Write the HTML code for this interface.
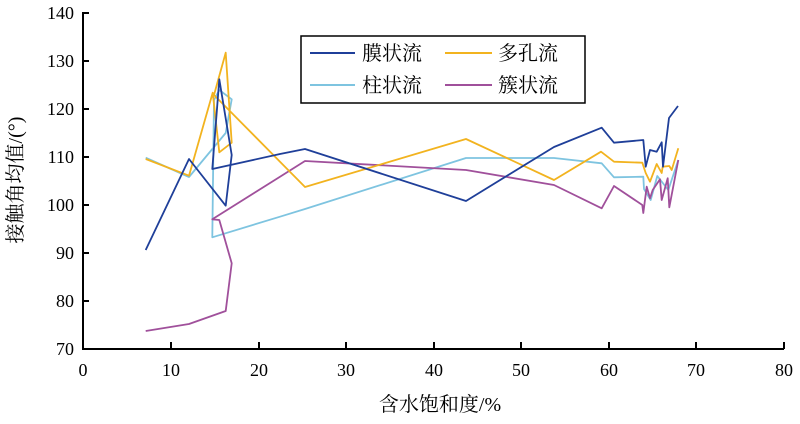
<!DOCTYPE html>
<html><head><meta charset="utf-8"><style>
body{margin:0;background:#fff}
svg text{font-family:'Liberation Serif','Noto Serif CJK SC',serif !important;fill:#000}
</style></head><body>
<svg width="800" height="419" viewBox="0 0 800 419" font-family="'Liberation Serif','Noto Serif CJK SC',serif">
<g stroke="#000" stroke-width="2" fill="none">
<path d="M83,12 V349 H784"/>
<path d="M83,13h6M83,61h6M83,109h6M83,157h6M83,205h6M83,253h6M83,301h6"/>
<path d="M171,349v-7M259,349v-7M346,349v-7M434,349v-7M521,349v-7M609,349v-7M696,349v-7M784,349v-7"/>
</g>
<g font-size="18" text-anchor="end">
<text x="74" y="19">140</text><text x="74" y="67">130</text><text x="74" y="115">120</text><text x="74" y="163">110</text><text x="74" y="211">100</text><text x="74" y="259">90</text><text x="74" y="307">80</text><text x="74" y="355">70</text>
</g>
<g font-size="18" text-anchor="middle">
<text x="83" y="376">0</text><text x="171" y="376">10</text><text x="259" y="376">20</text><text x="346" y="376">30</text><text x="434" y="376">40</text><text x="521" y="376">50</text><text x="609" y="376">60</text><text x="696" y="376">70</text><text x="784" y="376">80</text>
<text x="440" y="411" font-size="20">含水饱和度/%</text>
<text transform="translate(22,180) rotate(-90)" font-size="20">接触角均值/(°)</text>
</g>
<g fill="none" stroke-width="1.8" stroke-linejoin="round">
<polyline stroke="#7ec4e0" points="145.7,157.7 189,177 225.7,133 231.7,99.3 219.3,90 214,100 212.3,237.3 280,216.7 305,209 466,158 554,158 601.7,163.3 614,177.3 643.3,176.7 644,189 650.7,200 657.3,176 668.3,190 678.3,160"/>
<polyline stroke="#a0509b" points="145.7,331 189,324 225.7,311 231.7,263.3 219.3,220 212.3,219.3 280,176.7 305,161 466,170 554,185 601.7,208.3 614,186 642.3,205 643.3,213 646.7,186.7 650,198.3 652.7,190 660,179.3 661.7,200 667.7,178.3 669.3,207.3 678.3,160"/>
<polyline stroke="#f2b31f" points="145.7,159 189,175.7 212.7,92.7 219.3,152.3 231.7,142.7 225.7,52.7 214,95 280,161.7 305,187 466,139 554,180 601,151.7 614,161.7 642.3,162.7 645.7,173 650,181.7 656.7,164 661.7,173 662.7,166.7 669.3,166 671.7,170 678.3,148.3"/>
<polyline stroke="#1f3f99" points="145.7,250 189,159 225.7,205.7 231.7,155 219.3,79.3 212.3,169 280,154 305,149 466,201 554,147 601.7,127.7 614,142.7 643.3,140 645.7,166.7 650,150 656.7,151.7 661.7,142.3 663,166.7 669,118 678,106"/>
</g>
<rect x="301" y="36" width="284" height="67" fill="#fff" stroke="#000" stroke-width="1.5"/>
<g stroke-width="2">
<line x1="310" y1="53" x2="355" y2="53" stroke="#1f3f99"/>
<line x1="445" y1="53" x2="492" y2="53" stroke="#f2b31f"/>
<line x1="310" y1="85" x2="355" y2="85" stroke="#7ec4e0"/>
<line x1="445" y1="85" x2="492" y2="85" stroke="#a0509b"/>
</g>
<g font-size="20">
<text x="362" y="60">膜状流</text><text x="498" y="60">多孔流</text>
<text x="362" y="92">柱状流</text><text x="498" y="92">簇状流</text>
</g>
</svg>
</body></html>
